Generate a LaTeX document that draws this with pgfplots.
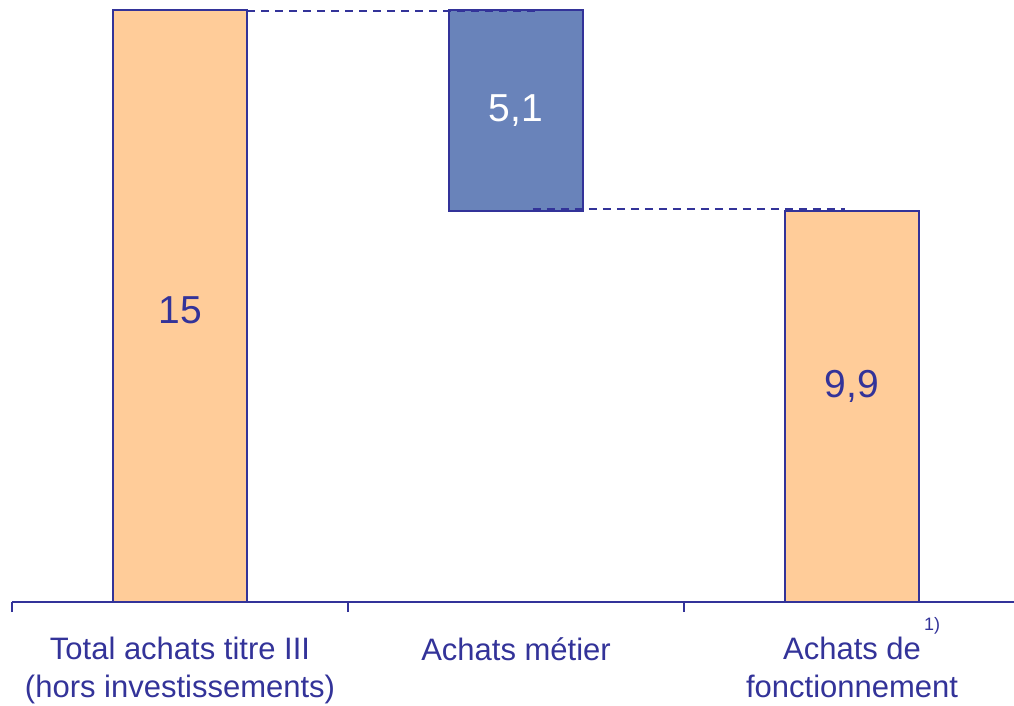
\documentclass[border=0pt]{standalone}
\usepackage{pgfplots}
\pgfplotsset{compat=1.18}
\usepackage{fontspec}
\setmainfont{Liberation Sans}
\definecolor{edge}{HTML}{333399}
\definecolor{orng}{HTML}{FFCC99}
\definecolor{blu}{HTML}{6983BA}
\pgfplotsset{base/.style={
  at={(0pt,0pt)}, anchor=origin,
  scale only axis, width=1002pt, height=602pt,
  xmin=0, xmax=2.982, ymin=0, ymax=15.25, clip=false}}
\begin{document}
\begin{tikzpicture}
\useasboundingbox (-12pt,-103pt) rectangle (1002pt,602pt);
\begin{axis}[base,
  axis x line*=bottom, axis y line=none,
  axis line style={edge, line width=1.6pt},
  xtick={0,1,2}, xticklabels={}, ytick=\empty,
  tick align=outside, major tick length=10pt,
  tick style={edge, line width=1.6pt},
  ybar stacked, reverse stacked plots=false, bar width=0.4, bar shift=0pt,
]
\addplot[draw=none, fill=none] coordinates {(0.5,0) (1.5,9.9) (2.5,0)};
\addplot[draw=edge, fill=orng, line width=1.8pt] coordinates {(0.5,15) (1.5,0) (2.5,9.9)};
\addplot[draw=edge, fill=blu, line width=1.8pt] coordinates {(0.5,0) (1.5,5.1) (2.5,0)};
\end{axis}
\begin{axis}[base, axis lines=none, xtick=\empty, ytick=\empty]
\addplot[edge, line width=1.6pt, dash pattern=on 8pt off 6pt] coordinates {(0.7,14.965) (1.557,14.965)};
\addplot[edge, line width=1.6pt, dash pattern=on 8pt off 6pt] coordinates {(1.55,9.95) (2.48,9.95)};
\node[text=edge, font=\fontsize{39}{42}\selectfont] at (axis cs:0.5,7.4) {15};
\node[text=white, font=\fontsize{39}{42}\selectfont] at (axis cs:1.5,12.45) {5,1};
\node[text=edge, font=\fontsize{39}{42}\selectfont] at (axis cs:2.5,5.45) {9,9};
\node[text=edge, font=\fontsize{31}{38}\selectfont, align=center, anchor=north, inner sep=0pt, yshift=-35pt] at (axis cs:0.5,0) {Total achats titre III\\(hors investissements)};
\node[text=edge, font=\fontsize{31}{38}\selectfont, align=center, anchor=north, inner sep=0pt, yshift=-35pt] at (axis cs:1.5,0) {Achats métier};
\node[text=edge, font=\fontsize{31}{38}\selectfont, align=center, anchor=north, inner sep=0pt, yshift=-35pt] at (axis cs:2.5,0) {Achats de\\fonctionnement};
\node[text=edge, font=\fontsize{18}{20}\selectfont, inner sep=0pt] at (axis cs:2.5,0) [xshift=80pt, yshift=-24pt] {1)};
\end{axis}
\end{tikzpicture}
\end{document}
